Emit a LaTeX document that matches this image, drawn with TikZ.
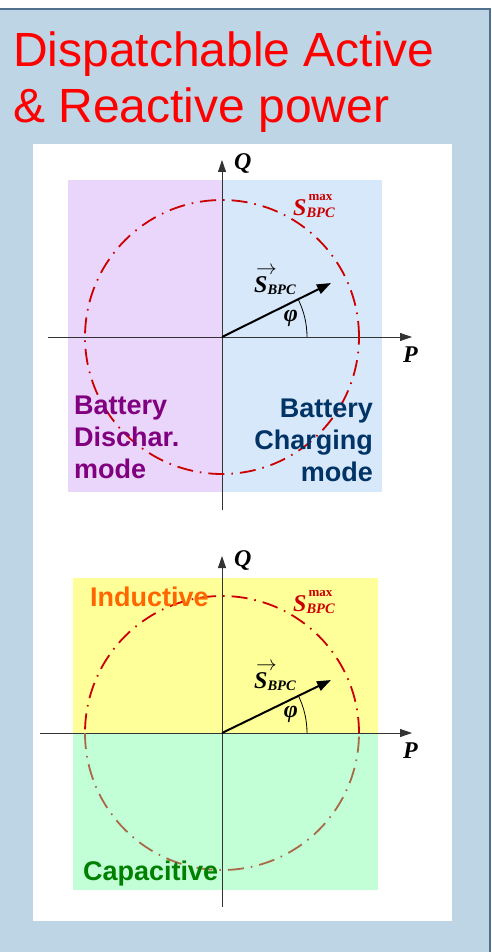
\documentclass[tikz,border=0pt]{standalone}
\usepackage{fontspec}
\setmainfont{Liberation Sans}
\newfontfamily\labfont{Liberation Serif}
\usetikzlibrary{arrows.meta}

\definecolor{panelblue}{HTML}{BED5E5}
\definecolor{panelline}{HTML}{50708E}
\definecolor{dischfill}{HTML}{EAD6FA}
\definecolor{chargefill}{HTML}{D6E8FA}
\definecolor{indfill}{HTML}{FFFF99}
\definecolor{capfill}{HTML}{C2FFD6}
\definecolor{circred}{HTML}{CC0000}
\definecolor{circbrown}{HTML}{A86A48}
\definecolor{dischtext}{HTML}{800080}
\definecolor{chargetext}{HTML}{003366}
\definecolor{indtext}{HTML}{FF6600}
\definecolor{captext}{HTML}{008000}

\newcommand{\smaxlabel}{{\bfseries\itshape S}\makebox[0pt][l]{\kern2pt\raisebox{15pt}{\fontsize{13}{13}\selectfont\bfseries max}}\raisebox{-2pt}{\fontsize{14.5}{14.5}\selectfont\bfseries\itshape BPC}}
\newcommand{\svlabel}{\makebox[0pt][l]{\kern2pt\raisebox{17.5pt}{\fontsize{20}{20}\selectfont$\rightarrow$}}{\bfseries\itshape S}\raisebox{-2pt}{\fontsize{14.5}{14.5}\selectfont\bfseries\itshape BPC}}

\begin{document}
\begin{tikzpicture}[
  x=1pt, y=-1pt,
  axis/.style={draw=black!80, line width=0.8pt, -{Triangle[length=12pt, width=8pt]}},
  phasor/.style={draw=black, line width=2pt, -{Triangle[length=14pt, width=10pt]}},
  circ/.style={line width=1.8pt, dash pattern=on 16pt off 7pt on 1.6pt off 7pt},
  lab/.style={inner sep=0pt, font=\labfont\fontsize{24}{24}\selectfont},
  mode/.style={inner sep=0pt, font=\bfseries\fontsize{27}{32}\selectfont},
  title/.style={inner sep=0pt, text=red, font=\fontsize{48}{56}\selectfont, anchor=base west}
]
  \useasboundingbox (0,0) rectangle (491,952);
  \fill[panelblue] (0,9) rectangle (491,960);
  \draw[panelline, line width=1.2pt] (0,9) -- (490,9) -- (490,960);
  \fill[white] (33,144) rectangle (452,921);

  \node[title] (t1) at (13,67) {Dispatchable Active};
  \node[title] (t2) at (13,123) {\& Reactive power};

  % upper diagram
  \fill[dischfill] (68,180) rectangle (222,492);
  \fill[chargefill] (222,180) rectangle (382,492);
  \coordinate (o1) at (222,337);
  \coordinate (p1a) at (48,337);
  \coordinate (p1b) at (412,337);
  \coordinate (q1a) at (222,510);
  \coordinate (q1b) at (222,160);
  \coordinate (s1) at (331,283);
  \draw[axis] (p1a) -- (p1b);
  \draw[axis] (q1a) -- (q1b);
  \draw[circ, circred] (o1) circle[radius=137pt];
  \draw[phasor] (o1) -- (s1);
  \draw[line width=0.8pt] (o1) ++(85pt,0pt) arc[start angle=0, end angle=26.6, radius=85pt];
  \node[lab, anchor=base west] (q1) at (234,170) {\bfseries\itshape Q};
  \node[lab, anchor=base west] (p1) at (403,362) {\bfseries\itshape P};
  \node[lab, anchor=base west, text=circred] (smax1) at (293,215) {\smaxlabel};
  \node[lab, anchor=base west] (sv1) at (254,292) {\svlabel};
  \node[lab] (phi1) at (291,318) {\bfseries\itshape φ};
  \node[mode, text=dischtext, align=left, anchor=north west] (disch) at (74,396) {Battery\\Dischar.\\mode};
  \node[mode, text=chargetext, align=right, anchor=north east] (charge) at (373,399) {Battery\\Charging\\mode};

  % lower diagram
  \fill[indfill] (73,578) rectangle (378,733);
  \fill[capfill] (73,733) rectangle (378,890);
  \coordinate (o2) at (222,733);
  \coordinate (p2a) at (40,733);
  \coordinate (p2b) at (412,733);
  \coordinate (q2a) at (222,907);
  \coordinate (q2b) at (222,556);
  \coordinate (s2) at (331,680);
  \draw[axis] (p2a) -- (p2b);
  \draw[axis] (q2a) -- (q2b);
  \draw[circ, circred] (o2) ++(137pt,0pt) arc[start angle=0, end angle=180, radius=137pt];
  \draw[circ, circbrown] (o2) ++(-137pt,0pt) arc[start angle=180, end angle=360, radius=137pt];
  \draw[phasor] (o2) -- (s2);
  \draw[line width=0.8pt] (o2) ++(85pt,0pt) arc[start angle=0, end angle=26.6, radius=85pt];
  \node[lab, anchor=base west] (q2) at (234,566) {\bfseries\itshape Q};
  \node[lab, anchor=base west] (p2) at (403,758) {\bfseries\itshape P};
  \node[lab, anchor=base west, text=circred] (smax2) at (293,611) {\smaxlabel};
  \node[lab, anchor=base west] (sv2) at (254,688) {\svlabel};
  \node[lab] (phi2) at (291,714) {\bfseries\itshape φ};
  \node[mode, text=indtext, anchor=base west] (ind) at (90,606) {Inductive};
  \node[mode, text=captext, anchor=base west] (cap) at (83,880) {Capacitive};
\end{tikzpicture}
\end{document}
